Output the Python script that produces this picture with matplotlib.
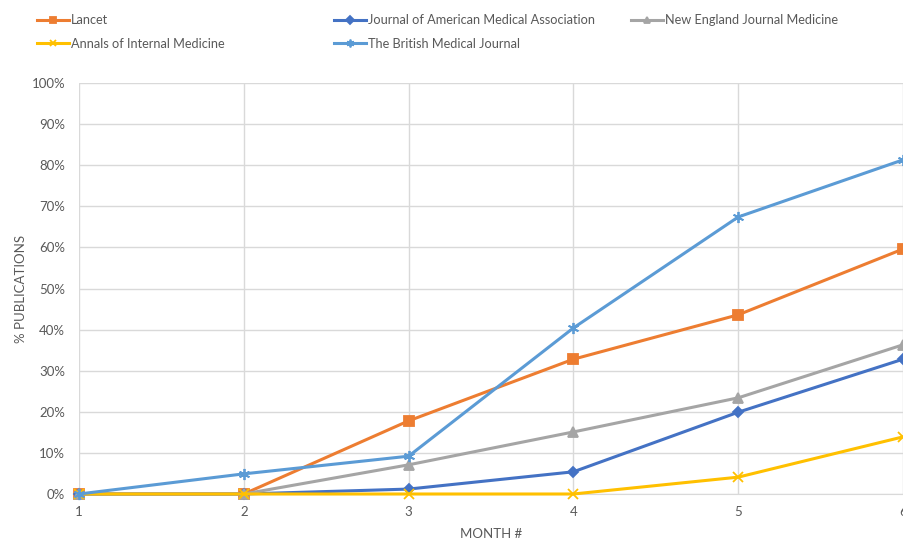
import matplotlib.pyplot as plt
from matplotlib.ticker import PercentFormatter

plt.rcParams['font.family'] = ['Lato', 'DejaVu Sans']

months = [1, 2, 3, 4, 5, 6]

lancet = [0, 0, 17.8, 32.8, 43.6, 59.6]
jama = [0, 0, 1.2, 5.4, 19.9, 32.8]
nejm = [0, 0, 7.1, 15.1, 23.4, 36.3]
annals = [0, 0, 0, 0, 4.1, 13.9]
bmj = [0, 4.9, 9.2, 40.4, 67.4, 81.3]

text_col = '#595959'
grid_col = '#D9D9D9'

fig = plt.figure(figsize=(9.04, 5.39), dpi=100)
ax = fig.add_axes([79 / 904, 1 - 494 / 539, 824 / 904, 411 / 539])

series = [
    ('Lancet', lancet, '#ED7D31', 's', 7),
    ('Journal of American Medical Association', jama, '#4472C4', 'D', 5.5),
    ('New England Journal Medicine', nejm, '#A5A5A5', '^', 7),
    ('Annals of Internal Medicine', annals, '#FFC000', 'x', 7),
    ('The British Medical Journal', bmj, '#5B9BD5', (6, 2, 0), 8),
]

lines = {}
for name, vals, col, mk, ms in series:
    ln, = ax.plot(months, vals, color=col, lw=2.2, marker=mk, ms=ms,
                  markeredgewidth=1.3, label=name, clip_on=False, zorder=3)
    lines[name] = ln

ax.set_xlim(1, 6)
ax.set_ylim(0, 100)
ax.set_xticks(months)
ax.set_yticks(range(0, 101, 10))
ax.yaxis.set_major_formatter(PercentFormatter(decimals=0))
ax.grid(True, color=grid_col, lw=1)
ax.set_axisbelow(True)
for side in ['top', 'right', 'left']:
    ax.spines[side].set_visible(False)
ax.spines['bottom'].set_color(grid_col)
ax.tick_params(length=0, labelsize=9.5, colors=text_col)
ax.tick_params(axis='x', pad=9)
ax.tick_params(axis='y', pad=10)
ax.set_xlabel('MONTH #', fontsize=9.5, color=text_col, labelpad=7)
ax.set_ylabel('% PUBLICATIONS', fontsize=9.5, color=text_col, labelpad=3)

# legend laid out in three columns across the top
cols = [
    (['Lancet', 'Annals of Internal Medicine'], 32),
    (['Journal of American Medical Association', 'The British Medical Journal'], 329),
    (['New England Journal Medicine'], 626),
]
for names, x0 in cols:
    fig.legend([lines[n] for n in names], names, loc='upper left',
               bbox_to_anchor=(x0 / 904, 1 - 9 / 539), frameon=False,
               fontsize=9.2, labelcolor=text_col, handlelength=2.5,
               handletextpad=0.15, labelspacing=0.9, borderaxespad=0,
               markerscale=0.7)

fig.savefig('out.png', dpi=100)
